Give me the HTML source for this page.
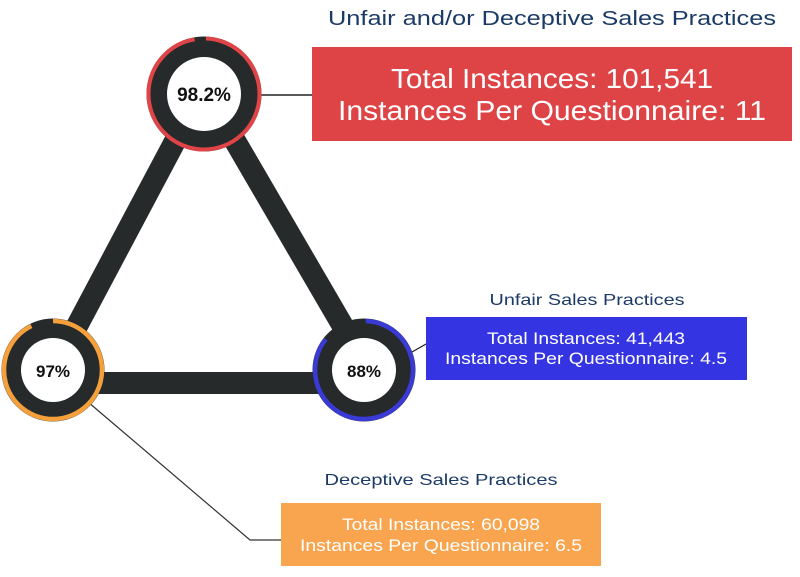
<!DOCTYPE html>
<html><head><meta charset="utf-8"><style>
html,body{margin:0;padding:0;background:#fff;}
svg{display:block;font-family:"Liberation Sans",sans-serif;}
</style></head><body>
<svg width="800" height="577" viewBox="0 0 800 577" xmlns="http://www.w3.org/2000/svg">
<rect width="800" height="577" fill="#fff"/>
<!-- connector lines -->
<line x1="260" y1="95" x2="312" y2="95" stroke="#222" stroke-width="1.5"/>
<line x1="412" y1="352" x2="426" y2="344" stroke="#222" stroke-width="1.2"/>
<polyline points="88,402 250,540 281,540" fill="none" stroke="#333" stroke-width="1.2"/>
<!-- triangle bars -->
<line x1="198" y1="98" x2="60" y2="358" stroke="#262a2b" stroke-width="22"/>
<line x1="210" y1="98" x2="358" y2="352" stroke="#262a2b" stroke-width="22"/>
<line x1="53" y1="383" x2="364" y2="383" stroke="#262a2b" stroke-width="22"/>
<!-- top node -->
<circle cx="204" cy="94" r="47" fill="none" stroke="#262a2b" stroke-width="21"/>
<circle cx="204" cy="94" r="37" fill="#fff"/>
<circle cx="204" cy="94" r="55.5" fill="none" stroke="#e04447" stroke-width="4" stroke-dasharray="337 12" transform="rotate(-88 204 94)"/>
<text x="204" y="101" font-size="19" font-weight="bold" text-anchor="middle" fill="#111">98.2%</text>
<!-- left node -->
<circle cx="53" cy="370" r="41" fill="none" stroke="#262a2b" stroke-width="21"/>
<circle cx="53" cy="370" r="32" fill="#fff"/>
<circle cx="53" cy="370" r="49" fill="none" stroke="#f5a03b" stroke-width="4.5" stroke-dasharray="285 23" transform="rotate(-90 53 370)"/>
<text x="53" y="377" font-size="17" font-weight="bold" text-anchor="middle" fill="#111">97%</text>
<!-- right node -->
<circle cx="364" cy="370" r="41" fill="none" stroke="#262a2b" stroke-width="21"/>
<circle cx="364" cy="370" r="32" fill="#fff"/>
<circle cx="364" cy="370" r="49" fill="none" stroke="#3a3ad6" stroke-width="4.5" stroke-dasharray="262 46" transform="rotate(-88 364 370)"/>
<text x="364" y="377" font-size="17" font-weight="bold" text-anchor="middle" fill="#111">88%</text>
<!-- top box -->
<text x="552" y="25" font-size="20" text-anchor="middle" fill="#1b3a66" textLength="448" lengthAdjust="spacingAndGlyphs">Unfair and/or Deceptive Sales Practices</text>
<rect x="312" y="47" width="480" height="94" fill="#de4446"/>
<text x="552" y="88" font-size="28" text-anchor="middle" fill="#fff" textLength="322" lengthAdjust="spacingAndGlyphs">Total Instances: 101,541</text>
<text x="552" y="120" font-size="28" text-anchor="middle" fill="#fff" textLength="428" lengthAdjust="spacingAndGlyphs">Instances Per Questionnaire: 11</text>
<!-- blue box -->
<text x="587" y="305" font-size="16" text-anchor="middle" fill="#1b3a66" textLength="195" lengthAdjust="spacingAndGlyphs">Unfair Sales Practices</text>
<rect x="426" y="317" width="321" height="63" fill="#3434e2"/>
<text x="586" y="344" font-size="16.5" text-anchor="middle" fill="#fff" textLength="198" lengthAdjust="spacingAndGlyphs">Total Instances: 41,443</text>
<text x="586" y="364" font-size="16.5" text-anchor="middle" fill="#fff" textLength="282" lengthAdjust="spacingAndGlyphs">Instances Per Questionnaire: 4.5</text>
<!-- orange box -->
<text x="441" y="485" font-size="16" text-anchor="middle" fill="#1b3a66" textLength="233" lengthAdjust="spacingAndGlyphs">Deceptive Sales Practices</text>
<rect x="281" y="503" width="320" height="63" fill="#f9a54f"/>
<text x="441" y="530" font-size="16.5" text-anchor="middle" fill="#fff" textLength="198" lengthAdjust="spacingAndGlyphs">Total Instances: 60,098</text>
<text x="441" y="551" font-size="16.5" text-anchor="middle" fill="#fff" textLength="282" lengthAdjust="spacingAndGlyphs">Instances Per Questionnaire: 6.5</text>
</svg>
</body></html>
